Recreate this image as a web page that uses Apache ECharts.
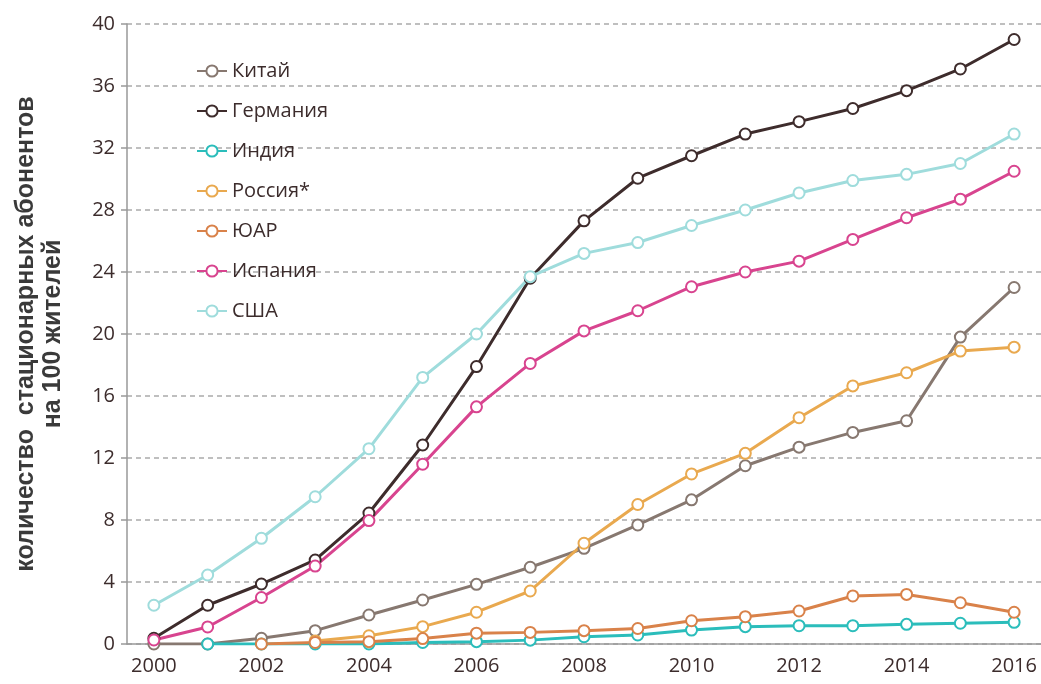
<!DOCTYPE html>
<html>
<head>
<meta charset="utf-8">
<script src="https://cdn.jsdelivr.net/npm/echarts@6/dist/echarts.min.js"></script>
<style>
  html, body { margin: 0; padding: 0; background: #fff; }
  #main { width: 1041px; height: 684px; }
</style>
</head>
<body>
<div id="main"></div>
<script>
// годы
var years = ['2000', '2001', '2002', '2003', '2004', '2005', '2006', '2007', '2008',
  '2009', '2010', '2011', '2012', '2013', '2014', '2015', '2016'];

var china   = [0, 0, 0.37, 0.86, 1.87, 2.84, 3.85, 4.95, 6.17, 7.68, 9.3, 11.5, 12.7, 13.65, 14.4, 19.8, 23.0];
var germany = [0.37, 2.5, 3.87, 5.42, 8.45, 12.84, 17.9, 23.6, 27.3, 30.05, 31.5, 32.9, 33.7, 34.55, 35.7, 37.1, 39.0];
var india   = [null, 0, 0, 0, 0, 0.1, 0.15, 0.25, 0.47, 0.58, 0.9, 1.12, 1.18, 1.18, 1.27, 1.34, 1.4];
var russia  = [null, null, null, 0.2, 0.53, 1.12, 2.05, 3.42, 6.5, 9.0, 10.97, 12.3, 14.6, 16.65, 17.5, 18.9, 19.15];
var sar     = [null, null, 0, 0.1, 0.15, 0.35, 0.7, 0.75, 0.86, 1.0, 1.5, 1.76, 2.13, 3.1, 3.2, 2.66, 2.05];
var spain   = [0.26, 1.1, 3.0, 5.03, 7.96, 11.6, 15.3, 18.1, 20.2, 21.5, 23.05, 24.0, 24.7, 26.1, 27.5, 28.7, 30.5];
var usa     = [2.5, 4.45, 6.82, 9.5, 12.6, 17.2, 20.0, 23.7, 25.2, 25.9, 27.0, 28.0, 29.1, 29.9, 30.3, 31.0, 32.9];

var names  = ['Китай', 'Германия', 'Индия', 'Россия*', 'ЮАР', 'Испания', 'США'];
var colors = ['#877870', '#3e2c2c', '#2bbdbb', '#e9a94f', '#d9824a', '#d8448f', '#9fdcdc'];
var values = [china, germany, india, russia, sar, spain, usa];

var textColor = '#3c2c2c';
var font = 'Open Sans';

var chart = echarts.init(document.getElementById('main'));

chart.setOption({
  animation: false,
  grid: { left: 127, top: 24, width: 916, height: 620 },
  legend: {
    orient: 'vertical',
    left: 191,
    top: 55,
    itemWidth: 30,
    itemHeight: 14,
    itemGap: 18,
    data: names,
    textStyle: { color: textColor, fontSize: 20, fontFamily: font, lineHeight: 22 }
  },
  xAxis: {
    type: 'category',
    data: years,
    boundaryGap: true,
    axisLine: { lineStyle: { color: '#999', width: 1.5 } },
    axisTick: { interval: 0, length: 7, lineStyle: { color: '#999', width: 1.5 } },
    axisLabel: { interval: 1, color: textColor, fontSize: 20, fontFamily: font, margin: 12 }
  },
  yAxis: {
    type: 'value',
    min: 0,
    max: 40,
    interval: 4,
    name: 'количество  стационарных абонентов\nна 100 жителей',
    nameLocation: 'middle',
    nameRotate: 90,
    nameGap: 60,
    nameTextStyle: {
      color: '#3a3a3a', fontSize: 25, fontWeight: 'bold',
      fontFamily: 'Liberation Sans', lineHeight: 27
    },
    axisLine: { show: true, lineStyle: { color: '#999', width: 1.5 } },
    axisTick: { show: true, length: 6, lineStyle: { color: '#999', width: 1.5 } },
    axisLabel: { color: textColor, fontSize: 20, fontFamily: font, margin: 12 },
    splitLine: { lineStyle: { color: '#aaa', type: [5, 4], width: 1.5 } }
  },
  series: names.map(function (n, i) {
    return {
      name: n,
      type: 'line',
      data: values[i],
      symbol: 'emptyCircle',
      symbolSize: 11,
      connectNulls: false,
      color: colors[i],
      lineStyle: { width: 3, color: colors[i] },
      itemStyle: { color: colors[i], borderWidth: 2.8, borderColor: colors[i] }
    };
  })
});
</script>
</body>
</html>
